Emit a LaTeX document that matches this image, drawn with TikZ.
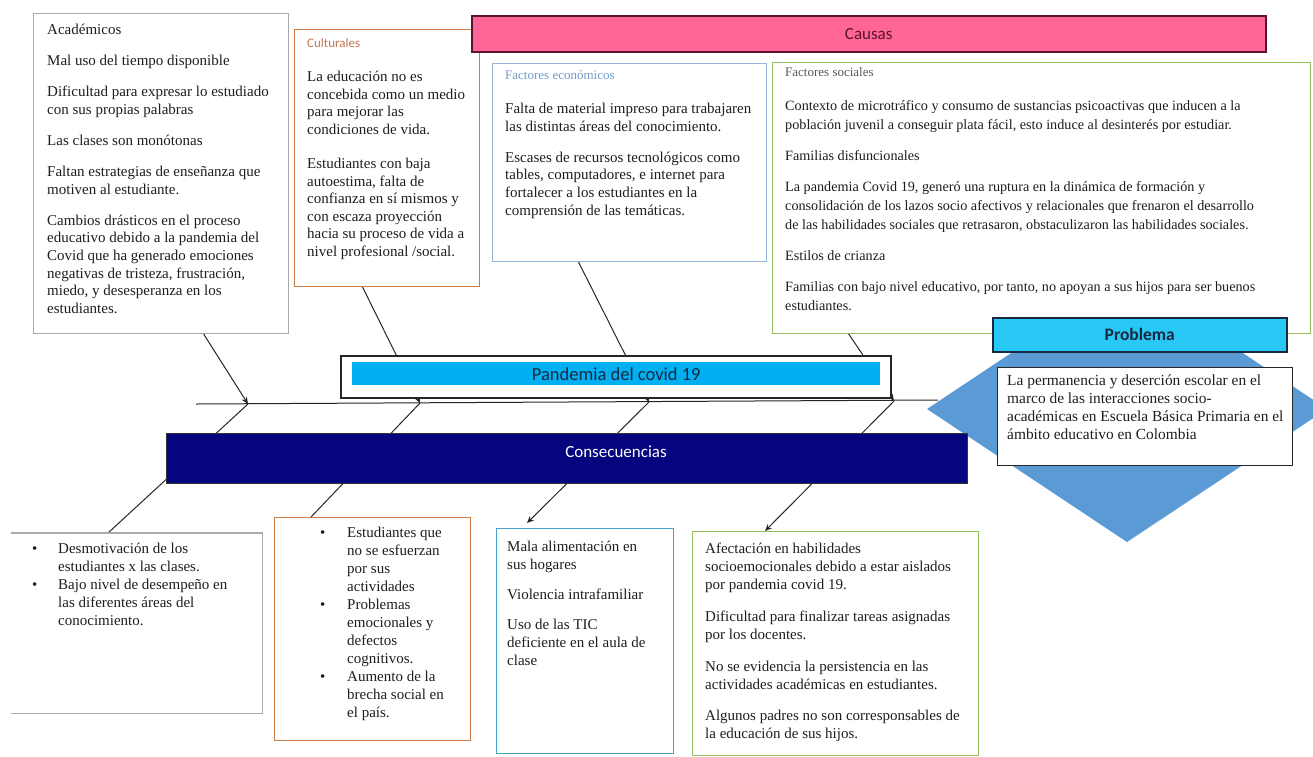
\documentclass[tikz,border=0pt]{standalone}
\usepackage{fontspec}
\setmainfont{Liberation Serif}
\newfontfamily\sansf{Carlito}
\usetikzlibrary{arrows.meta}
\definecolor{pinkC}{RGB}{255,102,150}
\definecolor{pinkB}{RGB}{90,20,45}
\definecolor{cyanP}{RGB}{40,200,245}
\definecolor{cyanD}{RGB}{0,176,240}
\definecolor{navyC}{RGB}{5,5,128}
\definecolor{diamC}{RGB}{91,155,213}
\definecolor{grayB}{RGB}{170,170,170}
\definecolor{orangeB}{RGB}{205,125,65}
\definecolor{orangeT}{RGB}{195,120,80}
\definecolor{blueL}{RGB}{150,180,215}
\definecolor{blueT}{RGB}{115,155,205}
\definecolor{blueB}{RGB}{70,160,200}
\definecolor{greenB}{RGB}{150,190,95}
\definecolor{ink}{RGB}{30,30,30}
\definecolor{darkT}{RGB}{25,40,65}
\begin{document}
\begin{tikzpicture}[x=1pt,y=-1pt,
  box/.style={draw, anchor=north west, inner sep=0pt, line width=1.3pt, fill=white},
  txt/.style={anchor=north west, inner sep=0pt, align=left, text=ink, font=\fontsize{15}{17.7}\selectfont},
  lbl/.style={anchor=north west, inner sep=0pt, font=\fontsize{13}{14}\selectfont},
  bar/.style={anchor=north west, inner sep=0pt, line width=1.5pt},
  sanslbl/.style={inner sep=0pt, font=\sansf\fontsize{17}{19}\selectfont},
  bone/.style={line width=1pt, draw=black!85},
  tipped/.style={bone, -{Stealth[length=7pt,width=6pt]}},
]
\useasboundingbox (0,0) rectangle (1313,756);
\begin{scope}
\clip (0,0) rectangle (1313,756);
% diamond (problem)
\fill[diamC] (927,409) -- (1127,276) -- (1327,409) -- (1127,542) -- cycle;
\end{scope}

% spine
\coordinate (sp0) at (196,404);
\coordinate (sp1) at (938,400);
\draw[bone] (sp0) -- (sp1);
\coordinate (j1) at (248,404);
\coordinate (j2) at (420,403);
\coordinate (j3) at (649,402);
\coordinate (j4) at (894,401);

% cause bones
\coordinate (c1) at (203,333);
\coordinate (c2) at (362,286);
\coordinate (c3) at (578,261);
\coordinate (c4) at (848,333);
\draw[tipped] (c1) -- (j1);
\draw[tipped] (c2) -- (j2);
\draw[tipped] (c3) -- (j3);
\draw[tipped] (c4) -- (j4);

% consequence bones
\coordinate (e1) at (108,533);
\coordinate (e2) at (311,517);
\coordinate (e3) at (527,523);
\coordinate (e4) at (765,531);
\draw[bone] (j1) -- (e1);
\draw[bone] (j2) -- (e2);
\draw[tipped] (j3) -- (e3);
\draw[tipped] (j4) -- (e4);

% ---------- cause boxes ----------
\node[box, draw=grayB, minimum width=255pt, minimum height=320pt] (acad) at (33,13) {};
\node[txt] (acadt) at (47,24) {Académicos\\[13.3pt]
Mal uso del tiempo disponible\\[13.3pt]
Dificultad para expresar lo estudiado\\
con sus propias palabras\\[13.3pt]
Las clases son monótonas\\[13.3pt]
Faltan estrategias de enseñanza que\\
motiven al estudiante.\\[13.3pt]
Cambios drásticos en el proceso\\
educativo debido a la pandemia del\\
Covid que ha generado emociones\\
negativas de tristeza, frustración,\\
miedo, y desesperanza en los\\
estudiantes.};

\node[box, draw=orangeB, minimum width=185pt, minimum height=257pt] (cult) at (294,29) {};
\node[lbl, text=orangeT, font=\sansf\fontsize{13}{14}\selectfont] (cultl) at (307,38) {Culturales};
\node[txt, font=\fontsize{15}{17.6}\selectfont] (cultt) at (307,71) {La educación no es\\
concebida como un medio\\
para mejorar las\\
condiciones de vida.\\[16.4pt]
Estudiantes con baja\\
autoestima, falta de\\
confianza en sí mismos y\\
con escaza proyección\\
hacia su proceso de vida a\\
nivel profesional /social.};

\node[box, draw=blueL, minimum width=274pt, minimum height=198pt] (econ) at (492,63) {};
\node[lbl, text=blueT] (econl) at (505,70) {Factores económicos};
\node[txt] (econt) at (505,103) {Falta de material impreso para trabajaren\\
las distintas áreas del conocimiento.\\[13pt]
Escases de recursos tecnológicos como\\
tables, computadores, e internet para\\
fortalecer a los estudiantes en la\\
comprensión de las temáticas.};

\node[box, draw=greenB, minimum width=538pt, minimum height=271pt] (soc) at (772,62) {};
\node[lbl, text=black!65] (socl) at (785,67) {Factores sociales};
\node[txt, font=\fontsize{14.2}{19}\selectfont] (soct) at (785,100) {Contexto de microtráfico y consumo de sustancias psicoactivas que inducen a la\\
población juvenil a conseguir plata fácil, esto induce al desinterés por estudiar.\\[12pt]
Familias disfuncionales\\[12pt]
La pandemia Covid 19, generó una ruptura en la dinámica de formación y\\
consolidación de los lazos socio afectivos y relacionales que frenaron el desarrollo\\
de las habilidades sociales que retrasaron, obstaculizaron las habilidades sociales.\\[12pt]
Estilos de crianza\\[12pt]
Familias con bajo nivel educativo, por tanto, no apoyan a sus hijos para ser buenos\\
estudiantes.};

% Causas bar
\node[bar, draw=pinkB, fill=pinkC, minimum width=794pt, minimum height=36pt] (causas) at (471,15) {};
\node[sanslbl, text=pinkB] (causast) at (causas.center) {Causas};

% Pandemia
\node[box, draw=black!85, line width=1.5pt, minimum width=550pt, minimum height=42pt] (pand) at (340,355) {};
\node[anchor=north west, inner sep=0pt, fill=cyanD, minimum width=528pt, minimum height=23pt] (pandin) at (352,362) {};
\node[sanslbl, text=darkT, font=\sansf\fontsize{18.5}{20}\selectfont] (pandt) at (pandin.center) {Pandemia del covid 19};

% Consecuencias bar
\node[bar, draw=black!80, fill=navyC, line width=1pt, minimum width=801pt, minimum height=50pt] (cons) at (166,433) {};
\node[sanslbl, text=white] (const) at (616,452) {Consecuencias};

% Problema
\node[bar, draw=darkT, fill=cyanP, minimum width=294pt, minimum height=34pt] (prob) at (992,317) {};
\node[sanslbl, text=darkT, font=\sansf\bfseries\fontsize{17.5}{19}\selectfont] (probt) at (prob.center) {Problema};
\node[box, draw=black!85, line width=1.3pt, minimum width=295pt, minimum height=98pt] (probbox) at (997,367) {};
\node[txt, font=\fontsize{15.4}{18}\selectfont] (probtx) at (1007,375) {La permanencia y deserción escolar en el\\
marco de las interacciones socio-\\
académicas en Escuela Básica Primaria en el\\
ámbito educativo en Colombia};

% ---------- consequence boxes ----------
\node[anchor=north west, inner sep=0pt, fill=white, minimum width=251pt, minimum height=180pt] (desm) at (11,533) {};
\draw[grayB, line width=1.3pt] (desm.north west) -- (desm.north east) -- (desm.south east) -- (desm.south west);
\node[txt, font=\fontsize{15}{18}\selectfont] (desmt) at (32,543) {\makebox[26pt][l]{•}Desmotivación de los\\
\hspace*{26pt}estudiantes x las clases.\\
\makebox[26pt][l]{•}Bajo nivel de desempeño en\\
\hspace*{26pt}las diferentes áreas del\\
\hspace*{26pt}conocimiento.};

\node[box, draw=orangeB, minimum width=196pt, minimum height=223pt] (orbox) at (274,517) {};
\node[txt, font=\fontsize{15}{18}\selectfont] (ortx) at (320,527) {\makebox[27pt][l]{•}Estudiantes que\\
\hspace*{27pt}no se esfuerzan\\
\hspace*{27pt}por sus\\
\hspace*{27pt}actividades\\
\makebox[27pt][l]{•}Problemas\\
\hspace*{27pt}emocionales y\\
\hspace*{27pt}defectos\\
\hspace*{27pt}cognitivos.\\
\makebox[27pt][l]{•}Aumento de la\\
\hspace*{27pt}brecha social en\\
\hspace*{27pt}el país.};

\node[box, draw=blueB, minimum width=177pt, minimum height=225pt] (blbox) at (496,528) {};
\node[txt, font=\fontsize{15}{18}\selectfont] (bltx) at (507,540.5) {Mala alimentación en\\
sus hogares\\[12pt]
Violencia intrafamiliar\\[12.5pt]
Uso de las TIC\\
deficiente en el aula de\\
clase};

\node[box, draw=greenB, minimum width=286pt, minimum height=224pt] (grbox) at (692,531) {};
\node[txt, font=\fontsize{15}{18}\selectfont] (grtx) at (705,542.5) {Afectación en habilidades\\
socioemocionales debido a estar aislados\\
por pandemia covid 19.\\[14pt]
Dificultad para finalizar tareas asignadas\\
por los docentes.\\[14pt]
No se evidencia la persistencia en las\\
actividades académicas en estudiantes.\\[13pt]
Algunos padres no son corresponsables de\\
la educación de sus hijos.};
\end{tikzpicture}
\end{document}
